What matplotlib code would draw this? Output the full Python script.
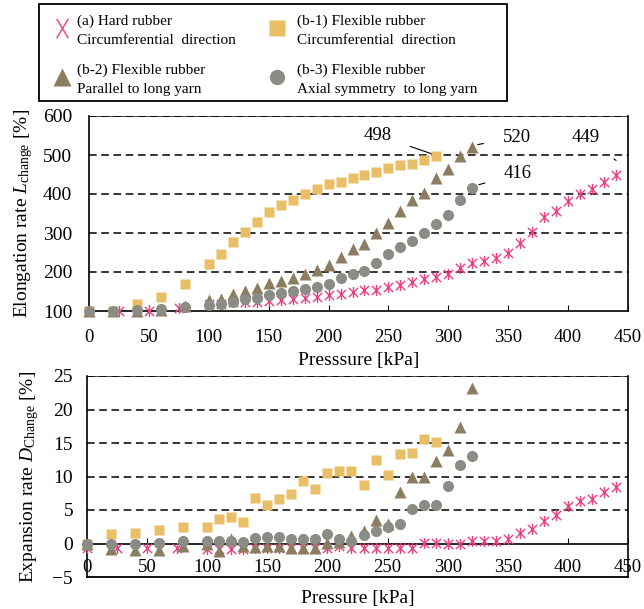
import numpy as np
import matplotlib
matplotlib.use('Agg')
import matplotlib.pyplot as plt
from matplotlib.path import Path
from matplotlib.lines import Line2D
from matplotlib.patches import Rectangle

plt.rcParams['font.family'] = ['Liberation Serif', 'DejaVu Serif']
plt.rcParams['mathtext.fontset'] = 'custom'
plt.rcParams['mathtext.rm'] = 'Liberation Serif'
plt.rcParams['mathtext.it'] = 'Liberation Serif:italic'

# 1. data
p_a = [0, 25, 50, 75] + list(range(100, 450, 10))
L_a = [100, 100, 101, 107, 118, 119, 122, 122, 124, 125, 127, 130, 134, 136, 141, 144,
       148, 153, 155, 161, 166, 174, 183, 187, 196, 211, 222, 228, 237, 248, 274, 302,
       340, 357, 382, 399, 414, 431, 449]
D_a = [-0.7, -0.6, -0.6, -0.6, -0.8, -0.8, -0.8, -0.8, -0.7, -0.7, -0.7, -0.7, -0.7,
       -0.7, -0.6, -0.3, -0.6, -0.6, -0.6, -0.6, -0.6, -0.6, 0.1, 0.1, 0.0, 0.0, 0.4,
       0.4, 0.4, 0.6, 1.5, 2.15, 3.4, 4.25, 5.65, 6.4, 6.65, 7.65, 8.4]

p_b1 = [0, 20, 40, 60, 80] + list(range(100, 300, 10))
L_b1 = [100, 100, 117, 137, 169, 221, 246, 278, 303, 328, 353, 371, 384, 400, 412, 425,
        431, 441, 449, 457, 466, 474, 477, 487, 498]
D_b1 = [0, 1.4, 1.55, 2.05, 2.4, 2.4, 3.6, 4.0, 3.15, 6.75, 5.75, 6.65, 7.4, 9.3, 8.1,
        10.5, 10.8, 10.8, 8.7, 12.4, 10.25, 13.35, 13.5, 15.55, 15.1]

p_b2 = [0, 20, 40, 60, 80] + list(range(100, 330, 10))
L_b2 = [100, 100, 101, 103, 113, 129, 132, 143, 151, 160, 171, 177, 184, 194, 204, 219,
        238, 259, 273, 299, 326, 356, 384, 403, 442, 464, 497, 520]
D_b2 = [0, -0.75, -0.9, -0.9, -0.4, -0.1, -1.15, 0.65, -0.3, -0.5, -0.4, -0.4, -0.6,
        -0.7, -0.7, 0.1, 0.2, 1.15, 1.9, 3.5, 2.9, 7.75, 10.0, 9.9, 12.3, 14.0, 17.4, 23.15]

p_b3 = p_b2
L_b3 = [100, 100, 102, 105, 109, 116, 118, 124, 130, 134, 140, 146, 151, 156, 162, 170,
        185, 194, 203, 222, 245, 264, 280, 300, 322, 347, 384, 416]
D_b3 = [0, -0.1, 0, 0.1, 0.4, 0.4, 0.4, 0.35, 0.25, 0.8, 0.9, 0.9, 0.6, 0.6, 0.7, 1.4,
        0.6, 0.4, 1.3, 1.9, 2.4, 2.9, 5.15, 5.75, 5.75, 8.65, 11.65, 13.0]

names = ['(a) Hard rubber', '(b-1) Flexible rubber', '(b-2) Flexible rubber', '(b-3) Flexible rubber']
dirs = ['Circumferential  direction', 'Circumferential  direction',
        'Parallel to long yarn', 'Axial symmetry  to long yarn']
x_ticks = list(range(0, 451, 50))
L_ticks = [100, 200, 300, 400, 500, 600]
D_ticks = [-5, 0, 5, 10, 15, 20, 25]
L_grid = [200, 300, 400, 500, 600]
D_grid = [5, 10, 15, 20, 25]

# 2. style
c_a = '#e8417f'
c_b1 = '#e8bf66'
c_b2 = '#8c7c60'
c_b3 = '#8b8c86'
star = Path([(-1, -1), (1, 1), (-1, 1), (1, -1), (0, -1.2), (0, 1.2)],
            [Path.MOVETO, Path.LINETO, Path.MOVETO, Path.LINETO, Path.MOVETO, Path.LINETO])
xmark = Path([(-0.6, -1), (0.6, 1), (-0.6, 1), (0.6, -1)],
             [Path.MOVETO, Path.LINETO, Path.MOVETO, Path.LINETO])
dash = (0, (5, 3))
fs_x = 13.5
fs_y = 14
fs_lab = 14

W, H = 644, 609
fig = plt.figure(figsize=(6.44, 6.09), dpi=100)
ax1 = fig.add_axes([89/W, 1-311/H, (628-89)/W, 195/H])
ax2 = fig.add_axes([87/W, 1-577/H, (628-87)/W, 201/H])


def draw(ax, ys):
    ax.plot(p_a, ys[0], ls='none', marker=star, ms=8, mew=1.0, mec=c_a, mfc='none', clip_on=False, zorder=3)
    ax.plot(p_b1, ys[1], ls='none', marker='s', ms=6.5, mec='none', mfc=c_b1, clip_on=False, zorder=4)
    ax.plot(p_b2, ys[2], ls='none', marker='^', ms=8.5, mec='none', mfc=c_b2, clip_on=False, zorder=5)
    ax.plot(p_b3, ys[3], ls='none', marker='o', ms=8, mec='none', mfc=c_b3, clip_on=False, zorder=6)


draw(ax1, [L_a, L_b1, L_b2, L_b3])
draw(ax2, [D_a, D_b1, D_b2, D_b3])

# top panel
for g in L_grid:
    ax1.axhline(g, color='black', lw=1.1, ls=dash, zorder=1)
ax1.set_xlim(0, 450)
ax1.set_ylim(100, 600)
ax1.set_xticks(x_ticks)
ax1.set_yticks(L_ticks)
ax1.tick_params(axis='x', direction='in', length=4, pad=13, labelsize=fs_x)
ax1.tick_params(axis='y', length=0, pad=12, labelsize=fs_y)
for s in ['left', 'right', 'bottom']:
    ax1.spines[s].set_linewidth(1.2)
ax1.spines['top'].set_linewidth(0.5)
ax1.set_xlabel('Presssure [kPa]', fontsize=fs_lab, labelpad=4)
ax1.set_ylabel('Elongation rate $L_{\\mathrm{change}}$ [%]', fontsize=fs_lab, labelpad=6)

# annotations
ax1.annotate('498', xy=(289, 500), xytext=(241, 551), fontsize=13.5, ha='center', va='center',
             arrowprops=dict(arrowstyle='-', color='black', lw=0.8, shrinkA=12, shrinkB=2))
ax1.annotate('520', xy=(320, 524), xytext=(357, 546), fontsize=13.5, ha='center', va='center',
             arrowprops=dict(arrowstyle='-', color='black', lw=0.8, shrinkA=12, shrinkB=4))
ax1.annotate('416', xy=(321, 420), xytext=(358, 452), fontsize=13.5, ha='center', va='center',
             arrowprops=dict(arrowstyle='-', color='black', lw=0.8, shrinkA=12, shrinkB=4))
ax1.annotate('449', xy=(440, 486), xytext=(415, 545), fontsize=13.5, ha='center', va='center',
             arrowprops=dict(arrowstyle='-', color='black', lw=0.8, shrinkA=12, shrinkB=0))

# bottom panel
for g in D_grid:
    ax2.axhline(g, color='black', lw=1.1, ls=dash, zorder=1)
ax2.axhline(-5, color='black', lw=1.3, zorder=7, clip_on=False)
ax2.set_xlim(0, 450)
ax2.set_ylim(-5, 25)
ax2.set_xticks(x_ticks)
ax2.set_yticks(D_ticks)
ax2.spines['bottom'].set_position(('data', 0))
ax2.tick_params(axis='x', direction='in', length=4, pad=11, labelsize=fs_x)
ax2.tick_params(axis='y', length=0, pad=10, labelsize=fs_y)
for s in ['left', 'right', 'bottom']:
    ax2.spines[s].set_linewidth(1.2)
ax2.spines['top'].set_linewidth(0.5)
ax2.set_xlabel('Pressure [kPa]', fontsize=fs_lab)
ax2.xaxis.set_label_coords(0.5, -0.065)
ax2.set_ylabel('Expansion rate $D_{\\mathrm{Change}}$ [%]', fontsize=fs_lab, labelpad=8)

# legend box drawn by hand (2 x 2 entries, each with two text lines)
fig.patches.append(Rectangle((39/W, 1-101/H), (507-39)/W, 97/H,
                             transform=fig.transFigure, fill=False, ec='black', lw=1.3))
leg_marks = [dict(marker=xmark, ms=14, mew=1.0, mec=c_a, mfc='none'),
             dict(marker='s', ms=11, mec='none', mfc=c_b1),
             dict(marker='^', ms=13, mec='none', mfc=c_b2),
             dict(marker='o', ms=11, mec='none', mfc=c_b3)]
mark_x = [62, 277]
text_x = [77, 297]
row_y = [31, 80]
for i in range(4):
    col, row = i % 2, i // 2
    fig.add_artist(Line2D([mark_x[col]/W], [1-(row_y[row]-3)/H], ls='none',
                          transform=fig.transFigure, **leg_marks[i]))
    fig.text(text_x[col]/W, 1-(row_y[row]-10)/H, names[i], fontsize=11, ha='left', va='center')
    fig.text(text_x[col]/W, 1-(row_y[row]+10)/H, dirs[i], fontsize=11, ha='left', va='center')

fig.savefig('out.png', dpi=100)
